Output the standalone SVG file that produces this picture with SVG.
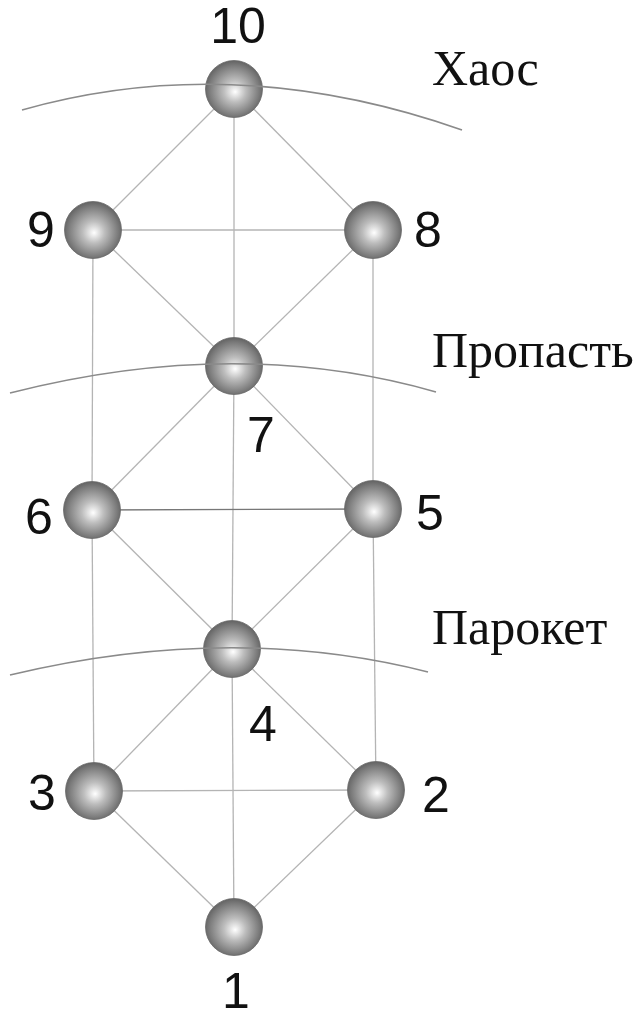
<svg xmlns="http://www.w3.org/2000/svg" width="636" height="1018" viewBox="0 0 636 1018">
<style>
.e{stroke:#b4b4b4;stroke-width:1.3;fill:none}
.arc{stroke:#8a8a8a;stroke-width:1.6;fill:none}
.n{fill:url(#g);stroke:#6a6a6a;stroke-width:0.8}
.num{font-family:"Liberation Sans",Arial,sans-serif;font-size:50px;fill:#111;text-anchor:middle}
.lab{font-family:"Liberation Serif","Times New Roman",serif;font-size:50px;fill:#111}
</style>
<defs>
<radialGradient id="g" cx="0.5" cy="0.52" r="0.55" fx="0.52" fy="0.55">
<stop offset="0" stop-color="#ffffff"/>
<stop offset="0.35" stop-color="#bdbdbd"/>
<stop offset="0.8" stop-color="#7a7a7a"/>
<stop offset="1" stop-color="#5a5a5a"/>
</radialGradient>
</defs>
<rect width="636" height="1018" fill="#fff"/>
<g id="connectors">
<line class="e" x1="234" y1="89" x2="93" y2="230"/>
<line class="e" x1="234" y1="89" x2="373" y2="230"/>
<line class="e" x1="234" y1="89" x2="234" y2="366"/>
<line class="e" x1="93" y1="230" x2="373" y2="230"/>
<line class="e" x1="93" y1="230" x2="234" y2="366"/>
<line class="e" x1="373" y1="230" x2="234" y2="366"/>
<line class="e" x1="93" y1="230" x2="92" y2="510"/>
<line class="e" x1="373" y1="230" x2="373" y2="509"/>
<line class="e" x1="234" y1="366" x2="92" y2="510"/>
<line class="e" x1="234" y1="366" x2="373" y2="509"/>
<line class="e" x1="234" y1="366" x2="232" y2="649"/>
<line class="e" x1="92" y1="510" x2="373" y2="509" style="stroke:#777"/>
<line class="e" x1="92" y1="510" x2="232" y2="649"/>
<line class="e" x1="373" y1="509" x2="232" y2="649"/>
<line class="e" x1="92" y1="510" x2="94" y2="791"/>
<line class="e" x1="373" y1="509" x2="376" y2="790"/>
<line class="e" x1="232" y1="649" x2="94" y2="791"/>
<line class="e" x1="232" y1="649" x2="376" y2="790"/>
<line class="e" x1="232" y1="649" x2="234" y2="927"/>
<line class="e" x1="94" y1="791" x2="376" y2="790"/>
<line class="e" x1="94" y1="791" x2="234" y2="927"/>
<line class="e" x1="376" y1="790" x2="234" y2="927"/>
</g>
<g id="node10"><circle class="n" cx="234" cy="89" r="28.5"/><text class="num" x="238" y="43">10</text></g>
<g id="node9"><circle class="n" cx="93" cy="230" r="28.5"/><text class="num" x="41" y="247">9</text></g>
<g id="node8"><circle class="n" cx="373" cy="230" r="28.5"/><text class="num" x="428" y="247">8</text></g>
<g id="node7"><circle class="n" cx="234" cy="366" r="28.5"/><text class="num" x="261" y="452">7</text></g>
<g id="node6"><circle class="n" cx="92" cy="510" r="28.5"/><text class="num" x="39" y="534">6</text></g>
<g id="node5"><circle class="n" cx="373" cy="509" r="28.5"/><text class="num" x="430" y="530">5</text></g>
<g id="node4"><circle class="n" cx="232" cy="649" r="28.5"/><text class="num" x="263" y="741">4</text></g>
<g id="node3"><circle class="n" cx="94" cy="791" r="28.5"/><text class="num" x="42" y="810">3</text></g>
<g id="node2"><circle class="n" cx="376" cy="790" r="28.5"/><text class="num" x="436" y="812">2</text></g>
<g id="node1"><circle class="n" cx="234" cy="927" r="28.5"/><text class="num" x="236" y="1008">1</text></g>
<g id="levels">
<path class="arc" d="M22 110 Q234 50 462 130"/>
<path class="arc" d="M10 393 Q237 335 436 392"/>
<path class="arc" d="M10 675 Q231 622 428 672"/>
<text class="lab" x="432" y="85">Хаос</text>
<text class="lab" x="432" y="367">Пропасть</text>
<text class="lab" x="432" y="644">Парокет</text>
</g>
</svg>
